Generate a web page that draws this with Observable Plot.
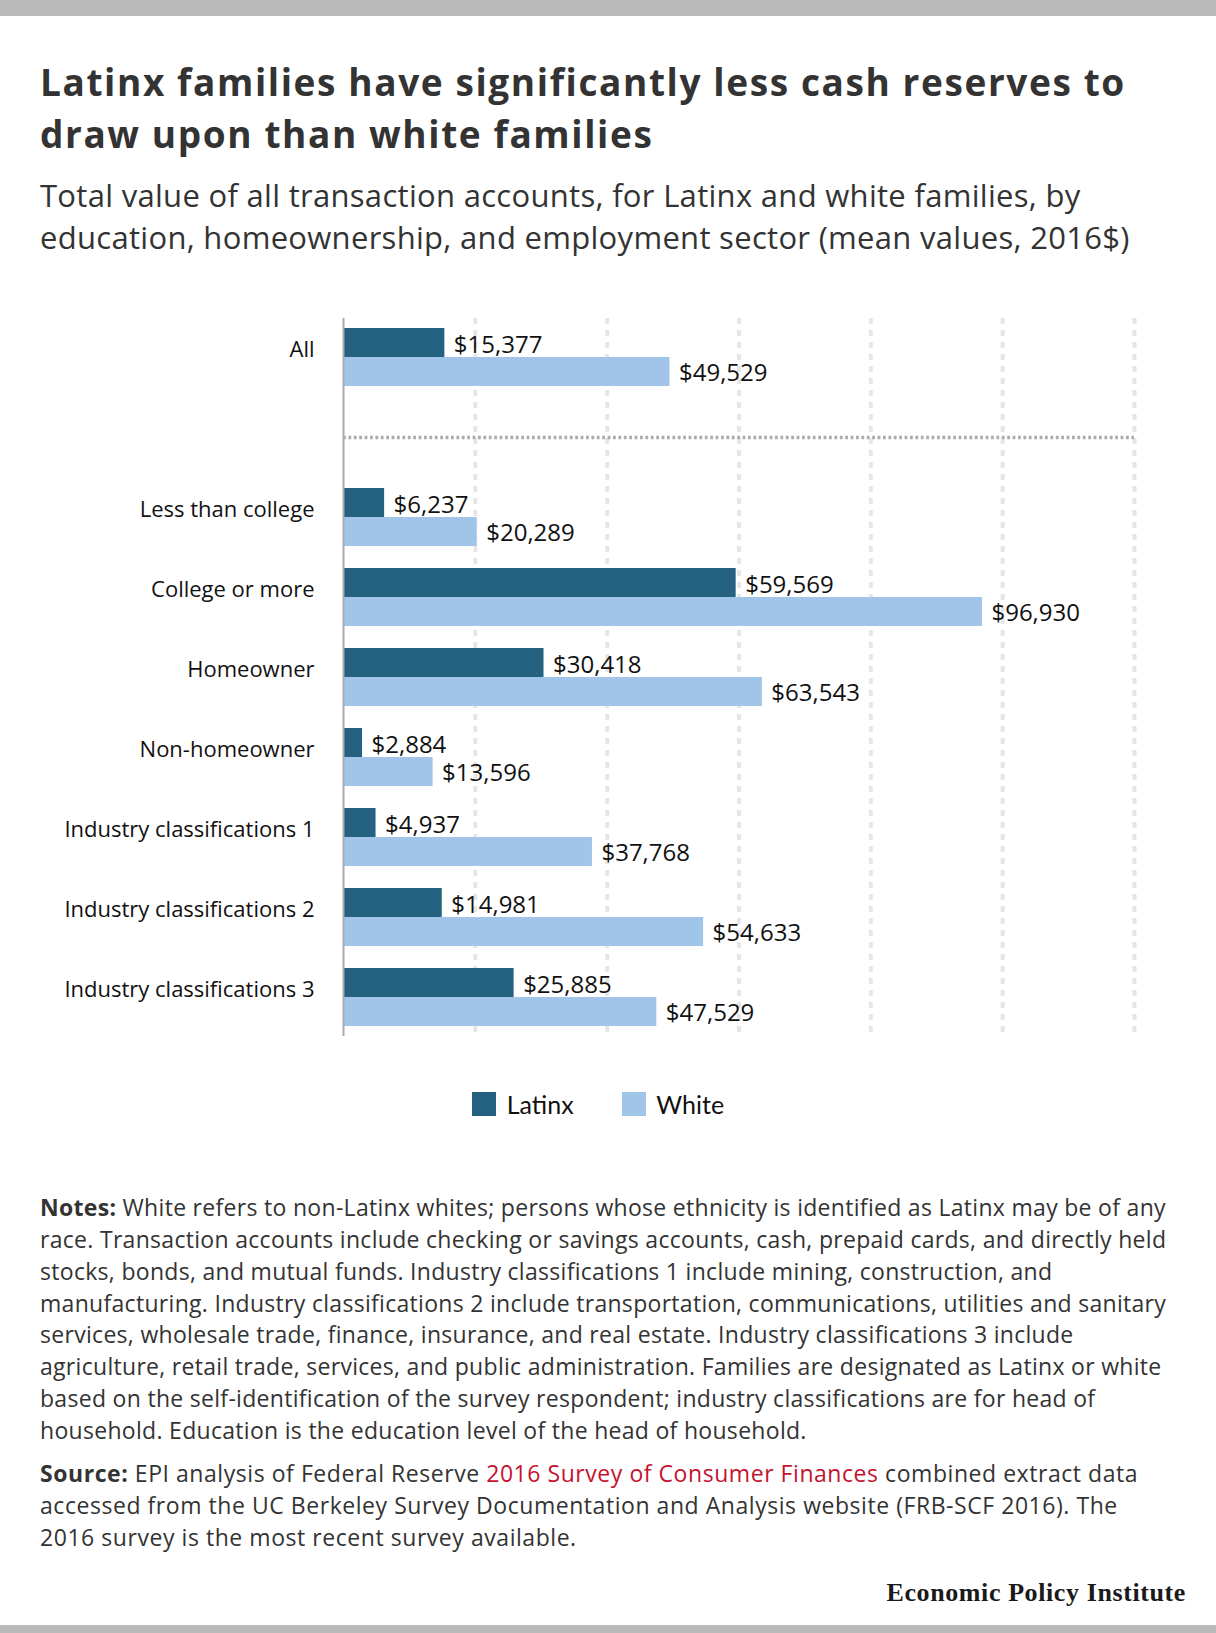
<!DOCTYPE html>
<html>
<head>
<meta charset="utf-8">
<script src="https://cdn.jsdelivr.net/npm/d3@7"></script>
<script src="https://cdn.jsdelivr.net/npm/@observablehq/plot@0.6"></script>
<style>
  html, body { margin: 0; padding: 0; background: #fff; }
  #page { position: relative; width: 1216px; height: 1633px; background: #fff; font-family: "Open Sans", Lato, sans-serif; overflow: hidden; }
  .bar { position: absolute; left: 0; width: 1216px; background: #bababa; }
  #title { position: absolute; left: 40px; top: 56.4px; font-size: 37px; line-height: 52px; font-weight: 700; color: #333; white-space: nowrap; letter-spacing: 1.6px; }
  #subtitle { position: absolute; left: 40px; top: 175.4px; font-size: 31px; line-height: 41.7px; font-weight: 400; color: #333; white-space: nowrap; letter-spacing: 0.3px; }
  #chart { position: absolute; left: 0; top: 290px; }
  #legend { position: absolute; left: 472px; top: 1091.7px; height: 24px; display: flex; align-items: center; font-family: Lato, sans-serif; font-size: 25px; line-height: 24px; color: #111; }
  #legend .item { display: flex; align-items: center; margin-right: 48px; }
  #legend .sw { width: 24px; height: 24px; margin-right: 10.7px; }
  .note { position: absolute; left: 40px; font-size: 23px; line-height: 31.9px; color: #333; white-space: nowrap; }
  #notes { top: 1191.8px; letter-spacing: 0.3px; }
  #source { top: 1458.4px; letter-spacing: 0.55px; }
  .note b { font-weight: 700; }
  .note .link { color: #c41230; }
  #logo { position: absolute; right: 30px; top: 1577.9px; font-family: "Liberation Serif", "DejaVu Serif", serif; font-weight: 700; font-size: 26px; line-height: 30px; color: #1a1a1a; letter-spacing: 0.6px; }
</style>
</head>
<body>
<div id="page">
  <div class="bar" style="top:0;height:16px"></div>
  <div id="title">Latinx families have significantly less cash reserves to<br>draw upon than white families</div>
  <div id="subtitle">Total value of all transaction accounts, for Latinx and white families, by<br>education, homeownership, and employment sector (mean values, 2016$)</div>
  <div id="chart"></div>
  <div id="legend"></div>
  <div id="notes" class="note"><b>Notes:</b> White refers to non-Latinx whites; persons whose ethnicity is identified as Latinx may be of any<br>race. Transaction accounts include checking or savings accounts, cash, prepaid cards, and directly held<br>stocks, bonds, and mutual funds. Industry classifications 1 include mining, construction, and<br>manufacturing. Industry classifications 2 include transportation, communications, utilities and sanitary<br>services, wholesale trade, finance, insurance, and real estate. Industry classifications 3 include<br>agriculture, retail trade, services, and public administration. Families are designated as Latinx or white<br>based on the self-identification of the survey respondent; industry classifications are for head of<br>household. Education is the education level of the head of household.</div>
  <div id="source" class="note"><b>Source:</b> EPI analysis of Federal Reserve <span class="link">2016 Survey of Consumer Finances</span> combined extract data<br>accessed from the UC Berkeley Survey Documentation and Analysis website (FRB-SCF 2016). The<br>2016 survey is the most recent survey available.</div>
  <div id="logo">Economic Policy Institute</div>
  <div class="bar" style="top:1625px;height:8px"></div>
</div>
<script>
// ---- data ----
const categories = ["All", "Less than college", "College or more", "Homeowner", "Non-homeowner", "Industry classifications 1", "Industry classifications 2", "Industry classifications 3"];
const latinxValues = [15377, 6237, 59569, 30418, 2884, 4937, 14981, 25885];
const whiteValues = [49529, 20289, 96930, 63543, 13596, 37768, 54633, 47529];
const groups = ["Latinx", "White"];
const groupColors = ["#256282", "#a0c5e8"];
const xTicks = [0, 20000, 40000, 60000, 80000, 100000, 120000];
const spacer = " ";

const rows = categories.flatMap((c, i) => [
  {category: c, group: groups[0], value: latinxValues[i]},
  {category: c, group: groups[1], value: whiteValues[i]}
]);
const latinxRows = rows.filter(d => d.group === groups[0]);
const whiteRows = rows.filter(d => d.group === groups[1]);
const yDomain = [categories[0], spacer, ...categories.slice(1)];
const fmt = d3.format("$,");

const chart = Plot.plot({
  width: 1216,
  height: 760,
  marginLeft: 343,
  marginRight: 82,
  marginTop: 28,
  marginBottom: 14,
  style: {fontFamily: "'Open Sans', sans-serif", fontSize: "22px", color: "#111", background: "#fff"},
  x: {domain: [xTicks[0], xTicks[xTicks.length - 1]], axis: null},
  y: {domain: yDomain, paddingInner: 0.275, paddingOuter: 0.125, axis: null},
  marks: [
    Plot.ruleX(xTicks.slice(1), {stroke: "#e6e6e6", strokeWidth: 4, strokeDasharray: "6,6"}),
    Plot.ruleY([spacer], {stroke: "#acacac", strokeWidth: 3.5, strokeDasharray: "2.8,2.6"}),
    Plot.barX(latinxRows, {x: "value", y: "category", fill: groupColors[0], insetBottom: 29}),
    Plot.barX(whiteRows, {x: "value", y: "category", fill: groupColors[1], insetTop: 29}),
    Plot.text(latinxRows, {x: "value", y: "category", text: d => fmt(d.value), dx: 9, dy: -12.5, textAnchor: "start", fill: "#111", fontSize: 24}),
    Plot.text(whiteRows, {x: "value", y: "category", text: d => fmt(d.value), dx: 9, dy: 16, textAnchor: "start", fill: "#111", fontSize: 24}),
    Plot.ruleX([0], {stroke: "#aaa", strokeWidth: 2}),
    Plot.axisY({tickSize: 0, tickPadding: 29, fontSize: 22, dy: -8, fill: "#111", label: null})
  ]
});
document.getElementById("chart").appendChild(chart);

// legend
const legend = document.getElementById("legend");
groups.forEach((g, i) => {
  const item = document.createElement("div");
  item.className = "item";
  const sw = document.createElement("div");
  sw.className = "sw";
  sw.style.background = groupColors[i];
  const t = document.createElement("span");
  t.textContent = g;
  item.appendChild(sw);
  item.appendChild(t);
  legend.appendChild(item);
});
</script>
</body>
</html>
